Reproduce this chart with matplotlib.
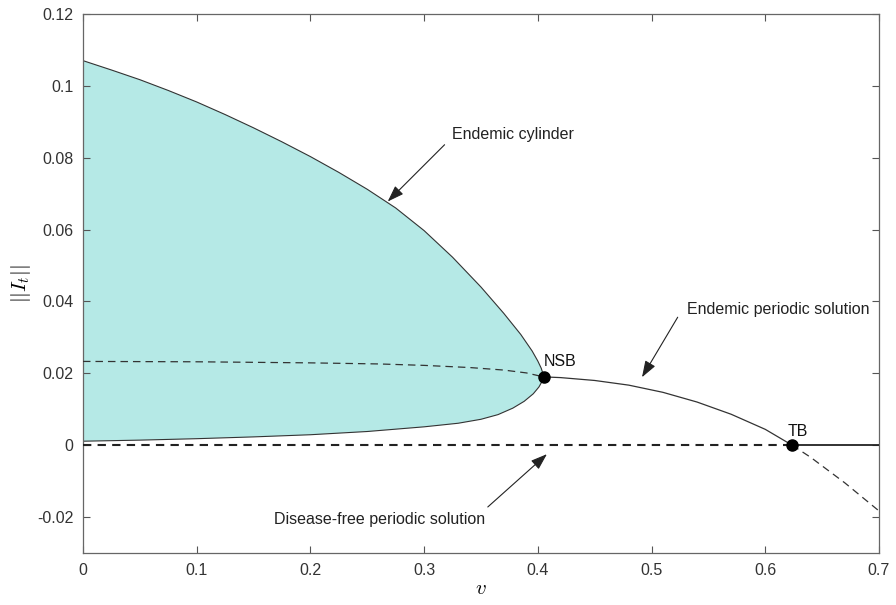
import numpy as np
import matplotlib
matplotlib.use("Agg")
import matplotlib.pyplot as plt

plt.rcParams['font.family'] = ['Liberation Sans', 'DejaVu Sans']
plt.rcParams['mathtext.fontset'] = 'cm'

# upper and lower edges of the endemic cylinder (torus amplitude)
cyl_upper_v = [0.0, 0.025, 0.05, 0.075, 0.10, 0.125, 0.15, 0.175, 0.20, 0.225, 0.25, 0.275,
               0.30, 0.325, 0.35, 0.37, 0.385, 0.395, 0.40, 0.403, 0.4045, 0.405]
cyl_upper_i = [0.1070, 0.1044, 0.1017, 0.0987, 0.0955, 0.0920, 0.0883, 0.0844, 0.0803, 0.0759,
               0.0712, 0.0660, 0.0597, 0.0523, 0.0440, 0.0367, 0.0308, 0.0262, 0.0234, 0.0214,
               0.0199, 0.0190]
cyl_lower_v = [0.0, 0.05, 0.10, 0.15, 0.20, 0.25, 0.30, 0.33, 0.35, 0.365, 0.378, 0.388,
               0.396, 0.401, 0.404, 0.405]
cyl_lower_i = [0.0011, 0.0014, 0.0018, 0.0023, 0.0029, 0.0038, 0.0051, 0.0061, 0.0072, 0.0085,
               0.0103, 0.0122, 0.0143, 0.0162, 0.0179, 0.0190]

# unstable endemic periodic branch (left of NSB)
unst_end_v = [0.0, 0.1, 0.2, 0.26, 0.3, 0.34, 0.37, 0.39, 0.405]
unst_end_i = [0.0233, 0.0232, 0.0229, 0.0226, 0.0222, 0.0216, 0.0209, 0.0201, 0.0190]

# stable endemic periodic branch between NSB and TB
stab_end_v = [0.405, 0.42, 0.45, 0.48, 0.51, 0.54, 0.57, 0.60, 0.6236]
stab_end_i = [0.0190, 0.0188, 0.0180, 0.0167, 0.0147, 0.0120, 0.0086, 0.0044, 0.0]

# continuation past TB (unstable)
past_tb_v = [0.6236, 0.64, 0.67, 0.70]
past_tb_i = [0.0, -0.0034, -0.0105, -0.0183]

# disease-free periodic solution
dfree_unst_v = [0.0, 0.6236]
dfree_unst_i = [0.0, 0.0]
dfree_stab_v = [0.6236, 0.7]
dfree_stab_i = [0.0, 0.0]

nsb = (0.405, 0.019)
tb = (0.6236, 0.0)

xticks = [0, 0.1, 0.2, 0.3, 0.4, 0.5, 0.6, 0.7]
xticklabels = ['0', '0.1', '0.2', '0.3', '0.4', '0.5', '0.6', '0.7']
yticks = [-0.02, 0, 0.02, 0.04, 0.06, 0.08, 0.1, 0.12]
yticklabels = ['-0.02', '0', '0.02', '0.04', '0.06', '0.08', '0.1', '0.12']

fig = plt.figure(figsize=(8.96, 6.05), dpi=100)
ax = fig.add_axes([0.0926, 0.086, 0.8884, 0.891])

poly_v = cyl_upper_v + cyl_lower_v[::-1]
poly_i = cyl_upper_i + cyl_lower_i[::-1]
ax.fill(poly_v, poly_i, color='#b5e9e6', lw=0, zorder=1)
ax.plot(cyl_upper_v, cyl_upper_i, color='#333333', lw=0.8, zorder=2)
ax.plot(cyl_lower_v, cyl_lower_i, color='#333333', lw=0.8, zorder=2)

ax.plot(unst_end_v, unst_end_i, color='#333333', lw=0.9, ls=(0, (6, 4)), zorder=3)
ax.plot(stab_end_v, stab_end_i, color='#333333', lw=0.9, zorder=3)
ax.plot(past_tb_v, past_tb_i, color='#333333', lw=0.9, ls=(0, (6, 4)), zorder=3)
ax.plot(dfree_unst_v, dfree_unst_i, color='#222222', lw=1.5, ls=(0, (4, 3)), zorder=3)
ax.plot(dfree_stab_v, dfree_stab_i, color='#222222', lw=1.3, zorder=3)

ax.plot(*nsb, 'o', color='black', ms=8, zorder=5)
ax.plot(*tb, 'o', color='black', ms=8, zorder=5)
ax.text(0.42, 0.0233, 'NSB', fontsize=11.5, ha='center', va='center', color='#111111')
ax.text(0.629, 0.0039, 'TB', fontsize=11.5, ha='center', va='center', color='#111111')

arrow = dict(arrowstyle='-|>,head_length=1.0,head_width=0.35', color='#222222', lw=0.8,
             shrinkA=0, shrinkB=0)
ax.annotate('', xy=(0.268, 0.0678), xytext=(0.318, 0.0836), arrowprops=arrow)
ax.text(0.378, 0.0864, 'Endemic cylinder', fontsize=11.5, ha='center', va='center', color='#222222')
ax.annotate('', xy=(0.4916, 0.0189), xytext=(0.523, 0.0356), arrowprops=arrow)
ax.text(0.611, 0.0378, 'Endemic periodic solution', fontsize=11.5, ha='center', va='center', color='#222222')
ax.annotate('', xy=(0.408, -0.0025), xytext=(0.356, -0.0172), arrowprops=arrow)
ax.text(0.261, -0.0206, 'Disease-free periodic solution', fontsize=11.5, ha='center', va='center', color='#222222')

ax.set_xlim(0, 0.7)
ax.set_ylim(-0.03, 0.12)
ax.set_xticks(xticks)
ax.set_xticklabels(xticklabels)
ax.set_yticks(yticks)
ax.set_yticklabels(yticklabels)
ax.tick_params(direction='in', top=True, right=True, length=5, width=0.8,
               labelsize=11.5, colors='#555555', labelcolor='#333333', pad=7)
for s in ax.spines.values():
    s.set_color('#666666')
    s.set_linewidth(0.9)

ax.set_xlabel('$v$', fontsize=15, labelpad=1)
ax.set_ylabel('$||I_t||$', fontsize=15, labelpad=3)

fig.savefig('out.png', dpi=100)
